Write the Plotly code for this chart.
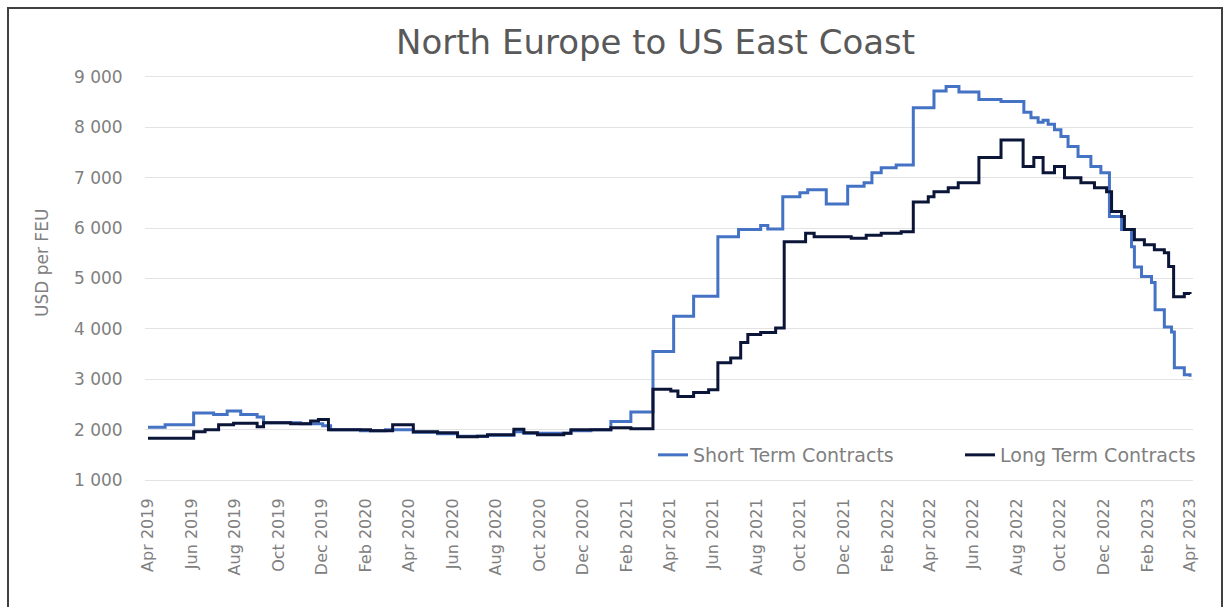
import plotly.graph_objects as go

# ---- data ----
short_dates = [
    "2019-04-01", "2019-04-25", "2019-06-04", "2019-07-02", "2019-07-21", "2019-08-09",
    "2019-09-01", "2019-09-10", "2019-11-01", "2019-12-02", "2019-12-13", "2020-01-24",
    "2020-02-28", "2020-04-07", "2020-05-11", "2020-06-08", "2020-07-20", "2020-08-26",
    "2020-09-09", "2020-11-14", "2020-12-12", "2021-01-09", "2021-02-06", "2021-03-09",
    "2021-04-07", "2021-05-05", "2021-06-08", "2021-07-07", "2021-08-07", "2021-08-17",
    "2021-09-07", "2021-10-01", "2021-10-12", "2021-11-07", "2021-12-07", "2021-12-30",
    "2022-01-10", "2022-01-23", "2022-02-13", "2022-03-09", "2022-04-07", "2022-04-24",
    "2022-05-12", "2022-06-09", "2022-07-10", "2022-08-11", "2022-08-21", "2022-08-31",
    "2022-09-07", "2022-09-14", "2022-09-23", "2022-10-02", "2022-10-12", "2022-10-26",
    "2022-11-13", "2022-11-27", "2022-12-09", "2022-12-26", "2023-01-09", "2023-01-13",
    "2023-01-23", "2023-02-06", "2023-02-11", "2023-02-24", "2023-03-06", "2023-03-10",
    "2023-03-24", "2023-04-01",
]
short_values = [
    2050, 2100, 2330, 2300, 2370, 2300,
    2250, 2140, 2120, 2080, 2000, 1980,
    2000, 1950, 1920, 1870, 1890, 1960,
    1930, 1980, 2000, 2160, 2350, 3550,
    4250, 4650, 5830, 5970, 6050, 5980,
    6620, 6700, 6760, 6480, 6830, 6900,
    7100, 7200, 7250, 8390, 8720, 8810,
    8700, 8550, 8510, 8300, 8190, 8100,
    8140, 8060, 7950, 7820, 7620, 7420,
    7220, 7100, 6230, 5970, 5630, 5230,
    5040, 4920, 4380, 4040, 3940, 3230,
    3090, 3050,
]

long_dates = [
    "2019-04-01", "2019-06-04", "2019-06-20", "2019-07-09", "2019-07-30", "2019-09-01",
    "2019-09-10", "2019-10-18", "2019-11-15", "2019-11-26", "2019-12-10", "2020-02-07",
    "2020-03-09", "2020-04-07", "2020-05-11", "2020-06-08", "2020-07-06", "2020-07-20",
    "2020-08-26", "2020-09-09", "2020-09-28", "2020-11-04", "2020-11-14", "2021-01-09",
    "2021-02-06", "2021-03-09", "2021-04-03", "2021-04-13", "2021-05-05", "2021-05-26",
    "2021-06-08", "2021-06-26", "2021-07-10", "2021-07-20", "2021-08-07", "2021-08-28",
    "2021-09-09", "2021-10-09", "2021-10-21", "2021-12-12", "2022-01-02", "2022-01-23",
    "2022-02-20", "2022-03-09", "2022-03-30", "2022-04-07", "2022-04-27", "2022-05-11",
    "2022-06-09", "2022-07-10", "2022-08-10", "2022-08-25", "2022-09-07", "2022-09-23",
    "2022-10-07", "2022-10-30", "2022-11-18", "2022-12-05", "2022-12-12", "2022-12-26",
    "2022-12-30", "2023-01-13", "2023-01-27", "2023-02-10", "2023-02-24", "2023-03-02",
    "2023-03-09", "2023-03-24", "2023-04-01",
]
long_values = [
    1830, 1960, 2000, 2100, 2130, 2060,
    2140, 2120, 2170, 2200, 2000, 1980,
    2100, 1960, 1940, 1860, 1870, 1900,
    2010, 1940, 1900, 1930, 2000, 2040,
    2020, 2800, 2770, 2660, 2740, 2790,
    3330, 3420, 3730, 3890, 3930, 4020,
    5730, 5900, 5830, 5800, 5860, 5900,
    5930, 6520, 6620, 6720, 6800, 6900,
    7400, 7750, 7220, 7400, 7100, 7220,
    7000, 6900, 6800, 6720, 6330, 6230,
    5970, 5770, 5670, 5570, 5510, 5240,
    4640, 4700, 4690,
]

series_names = ["Short Term Contracts", "Long Term Contracts"]
title_text = "North Europe to US East Coast"
y_title = "USD per FEU"
y_ticks = [1000, 2000, 3000, 4000, 5000, 6000, 7000, 8000, 9000]

# ---- figure ----
FONT = "DejaVu Sans"
fig = go.Figure()
fig.add_trace(go.Scatter(
    x=short_dates, y=short_values, name=series_names[0], mode="lines",
    line=dict(color="#4472C4", width=3, shape="hv"),
))
fig.add_trace(go.Scatter(
    x=long_dates, y=long_values, name=series_names[1], mode="lines",
    line=dict(color="#0B1538", width=3, shape="hv"),
))

L, R, T, B = 145, 32, 74, 124  # plot area: x 145..1193, y 74..483
pw = 1225 - L - R
ph = 607 - T - B

def px_x(p):
    return (p - L) / pw

def px_y(p):
    return (607 - B - p) / ph

fig.update_layout(
    width=1225, height=607,
    margin=dict(l=L, r=R, t=T, b=B, autoexpand=False),
    paper_bgcolor="white", plot_bgcolor="white",
    separators=". ",
    font=dict(family=FONT, color="#808080", size=15),
    showlegend=True,
    legend=dict(
        orientation="h", x=px_x(653), y=px_y(455), xanchor="left", yanchor="middle",
        font=dict(size=19, color="#7f7f7f", family=FONT),
        bgcolor="rgba(0,0,0,0)", entrywidth=262, entrywidthmode="pixels",
    ),
    xaxis=dict(
        type="date",
        range=["2019-03-27 19:00", "2023-04-05 04:00"],
        tick0="2019-04-01", dtick="M2", tickformat="%b %Y",
        tickangle=-90, showgrid=False, zeroline=False, showline=False,
        ticks="outside", ticklen=8, tickcolor="rgba(0,0,0,0)",
        tickfont=dict(size=16, color="#808080", family=FONT),
    ),
    yaxis=dict(
        range=[942, 9058], tickvals=y_ticks, tickformat=",d",
        showgrid=True, gridcolor="#e3e3e3", gridwidth=1.2,
        zeroline=False, showline=False,
        ticks="outside", ticklen=18, tickcolor="rgba(0,0,0,0)",
        tickfont=dict(size=17, color="#808080", family=FONT),
    ),
    annotations=[
        dict(text=title_text, xref="paper", yref="paper",
             x=px_x(655), y=px_y(42), xanchor="center", yanchor="middle",
             showarrow=False, font=dict(size=34, color="#595959", family=FONT)),
        dict(text=y_title, xref="paper", yref="paper",
             x=px_x(42), y=px_y(263), xanchor="center", yanchor="middle",
             textangle=-90, showarrow=False,
             font=dict(size=17, color="#808080", family=FONT)),
    ],
    shapes=[
        dict(type="rect", xref="paper", yref="paper",
             x0=px_x(8), x1=px_x(1222), y0=px_y(640), y1=px_y(8),
             line=dict(color="#404040", width=2), fillcolor="rgba(0,0,0,0)",
             layer="below"),
    ],
)

fig.write_html("out.html")
